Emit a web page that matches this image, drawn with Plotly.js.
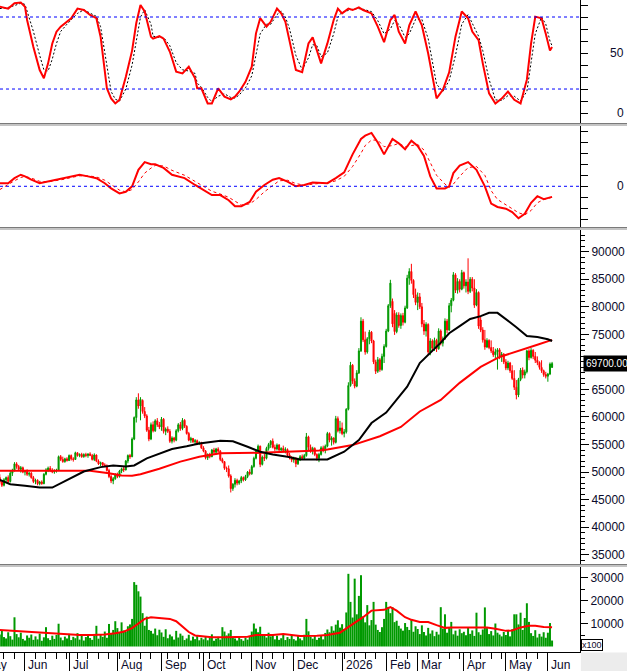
<!DOCTYPE html>
<html><head><meta charset="utf-8">
<script src="https://cdn.plot.ly/plotly-3.0.1.min.js"></script>
<style>html,body{margin:0;padding:0;background:#fff;}#chart{width:627px;height:671px;}</style>
</head><body><div id="chart"></div>
<script>
// ---------- calendar ----------
const calendarStart = '2025-05-02';
const firstDataDay = '2025-05-15';
const lastDataDay = '2026-06-03';
const holidays = ['2025-09-01','2025-09-02','2026-01-01','2026-02-16','2026-02-17','2026-02-18','2026-02-19','2026-02-20','2026-04-27','2026-04-30','2026-05-01'];
const monthNames = ['Jan','Feb','Mar','Apr','May','Jun','Jul','Aug','Sep','Oct','Nov','Dec'];

// ---------- prices (thousands) ----------
const openK = [
49.0,48.2,47.6,48.6,49.0,48.3,49.8,50.3,51.5,51.0,
50.5,50.8,50.0,50.1,49.6,49.8,49.0,48.3,48.5,47.9,
48.2,47.9,49.6,50.4,50.7,50.3,50.0,50.2,50.3,52.8,
52.3,51.9,52.4,52.1,53.0,52.4,52.3,53.5,53.0,53.2,
52.8,53.2,53.0,53.3,53.0,52.3,53.1,52.0,51.5,51.7,
51.3,51.1,50.3,49.2,48.4,48.8,49.5,49.2,50.2,50.6,
50.4,52.0,53.0,52.8,56.0,59.9,63.1,62.0,63.0,61.0,
60.2,57.6,56.0,58.6,57.5,59.3,58.6,58.2,59.6,57.4,
57.8,57.4,55.6,56.2,55.8,57.5,58.6,57.9,59.4,58.3,
57.0,55.8,56.1,55.5,55.7,55.2,55.3,54.4,53.8,52.6,
53.2,52.8,54.0,53.6,54.2,53.8,52.3,51.9,50.7,50.6,
49.3,47.0,47.8,48.5,48.0,48.4,49.0,48.6,49.2,50.0,
49.7,51.0,52.5,53.8,54.7,51.4,52.7,52.5,54.3,55.0,
55.6,54.5,54.2,54.9,54.0,54.3,53.9,54.1,53.1,52.6,
52.2,52.5,51.5,52.3,52.8,52.5,53.0,56.4,54.5,53.9,
54.3,53.2,52.5,53.2,54.4,53.9,54.7,57.0,55.8,56.2,
55.4,59.7,57.5,58.0,57.0,57.3,61.4,65.7,69.4,66.5,
65.6,68.0,72.0,77.4,74.0,71.8,74.2,75.4,73.8,70.0,
68.3,70.4,68.6,71.0,72.8,75.6,80.2,81.0,78.8,75.5,
78.5,76.6,78.4,77.2,79.8,85.2,86.4,84.8,82.2,80.8,
81.8,80.0,76.9,75.6,76.8,71.8,73.8,72.5,73.9,72.4,
75.6,73.4,74.2,77.4,75.8,80.2,81.2,85.8,83.0,84.6,
83.2,86.2,83.8,84.5,82.8,85.0,83.4,80.3,82.6,77.6,
75.8,74.0,72.7,73.9,72.6,72.0,71.3,71.8,72.2,71.0,
71.4,70.0,68.9,69.8,68.4,67.0,65.4,64.0,66.8,68.5,
67.6,68.2,72.0,70.8,72.1,71.0,70.3,69.9,69.0,68.4,
67.7,67.4,67.8,69.0];
const highK = [
49.6,48.6,48.9,49.2,49.4,50.2,50.6,51.8,51.8,51.3,
51.1,51.0,50.4,50.5,50.0,50.0,49.3,48.8,48.7,48.4,
48.5,49.8,50.7,51.0,51.1,50.7,50.5,50.6,53.0,53.1,
52.8,52.6,52.7,53.2,53.2,52.7,53.7,53.6,53.4,53.5,
53.4,53.5,53.4,53.6,53.3,53.4,53.2,52.3,51.9,51.8,
51.6,51.4,50.6,49.6,49.1,49.8,49.9,50.4,50.8,51.0,
52.2,53.2,53.3,56.3,60.1,63.6,64.3,63.6,63.2,61.8,
60.5,58.2,59.0,59.2,59.6,59.8,59.1,60.0,59.8,58.1,
58.3,57.8,56.5,56.4,57.8,58.9,59.1,59.8,59.6,58.5,
57.3,56.4,56.2,56.0,55.9,55.6,55.5,54.7,54.0,53.4,
53.5,54.2,54.4,54.4,54.5,54.0,52.6,52.0,51.0,51.2,
49.6,48.0,48.9,48.8,48.6,49.3,49.2,49.5,50.2,50.5,
51.3,52.8,54.0,55.0,54.8,53.0,53.3,54.6,55.3,55.8,
56.1,55.0,55.2,55.1,54.5,54.8,54.5,54.3,53.5,52.9,
52.8,52.7,52.6,53.1,53.2,53.3,57.1,56.6,55.0,54.6,
54.5,53.4,53.5,54.7,54.8,55.0,57.3,57.2,56.5,56.3,
60.2,60.1,59.3,59.0,57.8,61.6,66.3,70.0,69.6,67.0,
68.5,72.5,78.1,77.8,75.5,74.5,75.8,75.6,74.0,70.4,
70.9,70.7,71.5,73.2,76.0,80.5,84.9,81.5,79.4,79.0,
79.0,78.8,78.9,80.2,85.8,87.0,87.8,85.0,83.3,82.6,
82.5,80.7,77.6,77.2,77.0,74.3,74.1,74.4,74.2,76.1,
75.9,74.6,77.9,77.8,80.7,81.6,86.3,86.1,85.2,85.0,
86.7,86.4,85.0,88.8,85.4,85.4,85.0,83.2,82.8,78.2,
76.3,75.8,74.3,74.1,73.9,72.7,72.4,72.5,72.5,71.8,
71.6,70.5,70.2,70.0,69.4,68.5,66.7,67.1,68.9,69.0,
68.6,72.2,72.3,72.5,72.3,71.8,71.0,70.1,70.3,68.6,
68.2,68.0,69.9,70.0];
const lowK = [
47.8,47.3,47.4,48.0,48.0,48.1,49.3,50.1,50.6,50.2,
49.9,49.8,49.4,49.3,49.2,48.8,48.0,47.8,47.6,47.6,
47.7,47.8,49.4,50.0,50.0,49.8,49.7,49.9,50.2,52.0,
51.7,51.7,51.9,52.0,52.1,51.9,52.2,52.8,52.7,52.6,
52.6,52.7,52.6,52.9,52.1,52.0,51.8,51.3,51.1,51.0,
50.9,50.1,48.9,48.0,47.8,48.6,48.9,49.0,49.8,50.0,
50.3,51.6,52.4,52.7,55.8,59.0,61.5,59.4,60.6,59.8,
57.3,55.6,55.8,57.2,57.3,58.2,57.8,57.5,57.0,56.7,
57.1,55.3,55.2,55.4,55.6,57.2,57.5,57.6,58.0,56.8,
55.6,55.3,55.3,55.1,54.9,54.9,54.2,53.6,52.3,52.2,
52.5,52.7,53.3,53.2,53.5,52.0,51.6,50.4,50.0,49.0,
46.3,46.6,47.2,47.6,47.7,48.0,48.3,48.4,48.9,49.4,
49.5,50.8,52.3,53.4,50.9,51.2,52.0,52.3,53.9,54.4,
54.3,53.8,53.9,53.7,53.5,53.6,53.4,52.9,52.3,51.8,
51.7,50.9,51.3,52.0,52.2,52.2,52.8,54.0,53.5,53.2,
52.9,52.1,51.8,53.0,53.6,53.4,54.5,55.4,54.8,55.0,
55.2,57.2,57.0,56.7,56.3,57.0,61.2,65.5,66.0,65.2,
65.4,67.8,71.8,73.6,71.3,71.5,73.2,73.4,69.6,67.8,
68.0,68.2,68.4,69.8,72.6,75.4,79.8,76.3,74.9,75.2,
76.2,76.0,76.6,77.0,79.6,84.0,84.2,81.6,80.3,79.4,
79.6,76.3,74.9,74.6,71.3,71.2,72.0,72.0,71.8,72.2,
73.0,72.8,74.0,75.2,75.6,79.0,81.0,82.5,82.4,82.6,
83.0,83.3,82.6,82.3,82.5,82.8,79.8,80.1,76.0,75.4,
73.5,72.2,72.5,72.3,71.6,70.9,70.6,68.6,70.5,70.0,
69.6,68.5,68.5,68.0,66.7,64.9,63.2,63.6,66.5,67.0,
67.0,67.9,70.3,70.6,70.5,69.8,69.4,68.6,68.0,67.3,
67.0,66.4,67.6,68.9];
const closeK = [
48.2,47.6,48.6,49.0,48.3,49.8,50.3,51.5,51.0,50.5,
50.8,50.0,50.1,49.6,49.8,49.0,48.3,48.5,47.9,48.2,
47.9,49.6,50.4,50.7,50.3,50.0,50.2,50.3,52.8,52.3,
51.9,52.4,52.1,53.0,52.4,52.3,53.5,53.0,53.2,52.8,
53.2,53.0,53.3,53.0,52.3,53.1,52.0,51.5,51.7,51.3,
51.1,50.3,49.2,48.4,48.8,49.5,49.2,50.2,50.6,50.4,
52.0,53.0,52.8,56.0,59.9,63.1,62.0,63.2,61.0,60.2,
57.6,56.0,58.6,57.5,59.3,58.6,58.2,59.6,57.4,57.8,
57.4,55.6,56.2,55.8,57.5,58.6,57.9,59.4,58.3,57.0,
55.8,56.1,55.5,55.7,55.2,55.3,54.4,53.8,52.6,53.2,
52.8,54.0,53.6,54.2,53.8,52.3,51.9,50.7,50.6,49.3,
47.0,47.8,48.5,48.0,48.4,49.0,48.6,49.2,50.0,49.7,
51.0,52.5,53.8,54.7,51.4,52.7,52.5,54.3,55.0,55.6,
54.5,54.2,54.9,54.0,54.3,53.9,54.1,53.1,52.6,52.2,
52.5,51.5,52.3,52.8,52.5,53.0,56.4,54.5,53.9,54.3,
53.2,52.5,53.2,54.4,53.9,54.7,57.0,55.8,56.2,55.4,
59.7,57.5,58.0,57.0,57.3,61.4,65.7,69.4,66.5,65.6,
68.0,72.0,77.4,74.0,71.8,74.2,75.4,73.8,70.0,68.3,
70.4,68.6,71.0,72.8,75.6,80.2,84.3,76.9,75.5,78.5,
76.6,78.4,77.2,79.8,85.2,86.4,84.8,82.2,80.8,81.8,
80.0,76.9,75.6,76.8,71.8,73.8,72.5,73.9,72.4,75.6,
73.4,74.2,77.4,75.8,80.2,81.2,85.8,83.0,84.6,83.2,
86.2,83.8,84.5,82.8,85.0,83.4,80.3,82.6,76.5,75.8,
74.0,72.7,73.9,72.6,72.0,71.3,71.8,72.2,71.0,71.4,
70.0,68.9,69.8,68.4,67.0,65.4,64.0,66.8,68.5,67.6,
68.2,72.0,70.8,72.1,71.0,70.3,69.9,69.0,68.4,67.7,
67.4,67.8,69.6,69.7];

// ---------- volume (x100) ----------
const volume = [
5200,6800,4100,3500,6200,4500,3000,12700,5400,4000,6000,3300,
2600,4800,3800,5200,2900,4400,3100,5600,2500,4000,8400,3600,2800,4700,3300,5000,9900,3900,2700,4300,3500,
5500,2800,4200,3600,5800,3000,4600,2600,4100,5300,3700,2900,4800,9000,3400,5100,4200,6500,3800,9800,5600,7200,11000,
8000,6200,10500,7000,6400,8800,9600,12000,28000,26800,24000,21700,14500,9000,13000,7200,6800,5600,7800,4900,7300,
6100,4200,7500,3600,5200,4400,3000,6800,3900,5600,4700,2800,3500,5100,2600,4300,3200,4900,2700,3800,
3100,4500,2700,3900,5300,2500,3400,4200,3000,8400,6500,4800,5700,7200,4100,3500,2600,4400,3200,2500,3900,3000,4600,
6500,10000,7800,6200,8600,4800,5300,3900,6000,4400,5200,3100,4700,2900,3600,5500,2800,4100,3300,4900,
3200,2600,4800,3500,2700,5100,12000,6600,4200,3400,5000,2900,3800,4600,3100,5900,7400,6200,8800,6900,9500,11400,8200,
9700,7600,14800,31600,19400,12600,29500,14000,22000,31000,13000,10500,18000,9200,11500,19400,9500,7200,6300,8400,12000,
19400,17200,14500,17100,10600,11200,9000,7800,6900,10200,8500,7200,11800,6400,8800,
7600,5400,9200,6300,4800,8100,5600,7000,4500,6400,5200,17100,7800,14000,6000,8200,10700,5300,6900,4700,7500,5800,
6400,4900,8300,5500,7000,4600,14700,6200,5100,7400,17000,8000,5400,6700,4800,10000,6000,5200,4400,6300,
5000,6800,4400,7500,14000,14000,9600,14700,7200,12400,18800,10700,5800,4600,7100,3900,5500,4300,6200,3800,
6000,10200,2600];

// ---------- moving averages (day number, value) ----------
const blackMaDay = [0,5,12,19,25,32,40,48,54,60,64,70,76,82,89,95,105,111,118,124,130,137,143,156,164,171,177,184,194,200,210,214,219,224,229,233,237,241,246,251,256,261,263];
const blackMaK = [48.6,47.8,47.5,47.2,47.2,48.6,50.1,50.9,51.2,51.0,51.2,52.5,53.4,54.2,54.7,55.2,55.7,55.6,54.6,53.7,53.2,52.8,52.3,52.3,53.7,55.8,58.9,60.8,65.5,69.8,73.5,75.2,76.5,77.8,78.3,78.9,78.9,77.8,76.3,74.7,74.5,74.1,73.8];
const redMaDay = [0,16,30,43,52,58,63,67,76,86,95,105,124,137,152,156,168,181,191,200,210,219,229,238,248,256,263];
const redMaK = [50.25,50.25,50.2,50.25,49.8,49.4,49.35,49.6,50.6,51.9,52.8,53.4,53.5,53.7,53.9,54.1,54.9,56.5,58.2,61.0,63.1,66.2,69.1,70.9,72.2,73.1,74.0];
const volMaDay = [0,8,15,23,29,33,38,44,50,55,59,63,66,69,72,76,81,84,87,90,93,97,101,107,114,118,122,130,135,139,143,151,156,162,164,167,171,173,177,183,186,189,193,196,200,204,208,212,215,221,227,232,236,241,244,248,252,255,259,263];
const volMa = [7200,6700,6200,5800,5300,5000,5000,5000,5200,5800,6400,8000,10100,12000,12750,12460,12000,11000,8800,6300,4800,4300,4000,4000,4000,4200,5000,5000,5400,5100,4600,4700,5000,6000,7200,9000,11500,12750,15600,15940,17100,15600,12750,11600,10700,10600,9300,8100,8300,8300,8300,8300,7700,6800,7000,8300,9000,9000,8500,8400];

// ---------- stochastic ----------
const stochDay = [0,4,7,10,12,13,16,19,21,23,25,27,29,32,34,37,40,43,46,48,51,53,55,57,60,63,65,67,69,72,73,76,78,81,84,87,90,93,94,96,99,101,104,107,110,112,114,117,120,122,124,127,129,132,134,136,138,141,144,147,149,151,153,156,159,161,163,166,168,171,173,177,180,183,186,188,190,193,195,198,201,204,206,208,211,214,217,220,223,225,228,230,233,236,239,242,245,248,251,253,255,258,260,262,263];
const stochK = [88.6,87,91.4,92,88.6,77.5,55,35.8,29,41.4,58,67.8,72,76,79,87,85.8,81.7,79,63.6,20.6,12.2,8,11,30,52,75,90,84.6,63.6,62,64,62,51,34.5,33,38.6,29,20.6,20.6,8,8,20.6,13.6,11.4,13.6,17.8,26,38.6,66.4,79,72,76,87,83,76,60,35.8,34,58,63,52,41.4,58,77.5,87,83,87,85.8,88,85.8,83,72,59,77.5,81.7,67.8,58,73,84.6,73,49.6,30,12.2,19.4,33.9,63.6,84.6,79,67.8,60.8,41.4,16.4,8,12,17.8,11,8,27.8,58,80.3,79,66,52,55];
const stochD = [87,88,89.5,91.5,90.5,85,68,48,36,35,45,58,68,74,77.5,83,86,83.5,80.5,72,38,18,11.5,10,20,40,60,80,86,74,64,63,63,56,42,36,35,33,25,21.5,13,9.5,14,16,13,12.5,15,21,31,48,66,74,74,82,85,80,70,48,36,46,57,56,47,50,66,80,84,85.5,86.5,87,86.5,84.5,77,66,70,77,74,63,66,78,78,62,42,24,18,27,48,74,82,75,64,52,28,11,10.5,14.5,14,10,18,42,66,80,74,60,56];

// ---------- MACD ----------
const macdDay = [0,4,7,10,12,15,19,23,27,31,34,38,42,46,50,53,57,60,63,66,69,72,74,78,82,88,93,97,101,105,109,112,115,119,122,126,130,133,137,141,145,149,153,156,160,164,168,172,174,177,180,183,187,190,193,196,199,202,205,208,212,214,216,219,223,227,231,234,237,241,244,247,250,253,256,259,263];
const macdLine = [0.28,0.28,0.74,1.05,0.9,0.6,0.28,0.43,0.6,0.74,0.9,1.05,0.9,0.74,0.28,-0.19,-0.65,-0.5,0,1.5,2.2,2.0,2.0,1.67,1.05,0.74,0.12,-0.34,-0.8,-0.8,-1.27,-1.82,-1.82,-1.42,-0.5,0.12,0.6,0.74,0.43,0,0.12,0.34,0.28,0.28,0.74,1.27,2.9,4.3,4.6,4.85,3.98,2.9,4.3,3.9,3.36,4.14,3.67,2.75,0.9,-0.19,-0.19,0,1.2,1.88,2.2,1.5,0,-1.57,-1.88,-2.04,-2.35,-2.9,-2.5,-1.5,-0.9,-1.17,-0.96];
const macdSignal = [-0.3,0.2,0.5,0.8,0.9,0.75,0.45,0.4,0.5,0.65,0.8,0.95,0.95,0.85,0.55,0.15,-0.35,-0.5,-0.3,0.4,1.2,1.65,1.9,1.85,1.45,1.0,0.45,0.0,-0.45,-0.7,-1.0,-1.35,-1.7,-1.6,-1.2,-0.5,0.1,0.5,0.55,0.25,0.1,0.2,0.28,0.28,0.5,0.9,1.8,3.0,3.7,4.2,4.2,3.6,3.7,3.9,3.6,3.7,3.8,3.3,2.2,1.0,0.2,-0.1,0.2,0.9,1.7,1.8,1.0,-0.4,-1.2,-1.7,-2.0,-2.4,-2.6,-2.2,-1.5,-1.2,-1.0];

const lastPriceText = '69700.00';
const lastPrice = 69700;
const priceTicks = [35000,40000,45000,50000,55000,60000,65000,70000,75000,80000,85000,90000];
const volTicks = [10000,20000,30000];

// ---------- build ----------
function buildCalendar(){
  const out=[]; const d=new Date(calendarStart+'T00:00:00Z'); const end=new Date(lastDataDay+'T00:00:00Z');
  while(d<=end){const wd=d.getUTCDay();const s=d.toISOString().slice(0,10);
    if(wd!==0&&wd!==6&&holidays.indexOf(s)<0)out.push(s);
    d.setUTCDate(d.getUTCDate()+1);}
  return out;
}
const cal=buildCalendar();
const offset=cal.indexOf(firstDataDay);
const monthStarts=[],monthText=[],weekStarts=[];
for(let k=0;k<cal.length;k++){
  const n=k-offset;
  if(k===0||cal[k].slice(0,7)!==cal[k-1].slice(0,7)){
    monthStarts.push(n);
    const m=parseInt(cal[k].slice(5,7),10)-1;
    monthText.push(m===0?cal[k].slice(0,4):monthNames[m]);
  } else {
    const a=new Date(cal[k-1]+'T00:00:00Z').getUTCDay(), b=new Date(cal[k]+'T00:00:00Z').getUTCDay();
    if(b<=a) weekStarts.push(n);
  }
}
const days=closeK.map((_,j)=>j);
const K=v=>v*1000;
const H=652; const py=p=>(H-p)/H;
const R0=0.1, R1=276.3;
const FONT='Liberation Sans, Arial, sans-serif';
const TXT='#0b0b2b';
const GREEN='#009900', RED='#ff0000';

const traces=[
 {type:'scatter',mode:'lines',x:stochDay,y:stochD,xaxis:'x',yaxis:'y4',line:{color:'#000',width:1,dash:'2px,2px'},hoverinfo:'skip'},
 {type:'scatter',mode:'lines',x:stochDay,y:stochK,xaxis:'x',yaxis:'y4',line:{color:RED,width:2},hoverinfo:'skip'},
 {type:'scatter',mode:'lines',x:macdDay,y:macdSignal,xaxis:'x',yaxis:'y3',line:{color:RED,width:1,dash:'3px,3px'},hoverinfo:'skip'},
 {type:'scatter',mode:'lines',x:macdDay,y:macdLine,xaxis:'x',yaxis:'y3',line:{color:RED,width:2},hoverinfo:'skip'},
 {type:'candlestick',x:days,open:openK.map(K),high:highK.map(K),low:lowK.map(K),close:closeK.map(K),xaxis:'x',yaxis:'y2',
  increasing:{line:{color:GREEN,width:1},fillcolor:GREEN},decreasing:{line:{color:RED,width:1},fillcolor:RED},whiskerwidth:0,hoverinfo:'skip'},
 {type:'scatter',mode:'lines',x:redMaDay,y:redMaK.map(K),xaxis:'x',yaxis:'y2',line:{color:RED,width:2},hoverinfo:'skip'},
 {type:'scatter',mode:'lines',x:blackMaDay,y:blackMaK.map(K),xaxis:'x',yaxis:'y2',line:{color:'#000',width:2},hoverinfo:'skip'},
 {type:'bar',x:days,y:volume,xaxis:'x',yaxis:'y',width:0.95,marker:{color:GREEN,line:{width:0}},hoverinfo:'skip'},
 {type:'scatter',mode:'lines',x:volMaDay,y:volMa,xaxis:'x',yaxis:'y',line:{color:RED,width:2},hoverinfo:'skip'}
];

function minorVals(lo,hi,step,skip){const a=[];for(let v=lo;v<=hi;v+=step){if(v%skip!==0)a.push(v);}return a;}
const yBase={side:'right',anchor:'x',showline:true,linecolor:'#000',linewidth:1,ticks:'outside',ticklen:7,tickcolor:'#000',tickwidth:1,
  showgrid:false,zeroline:false,fixedrange:true,tickfont:{family:FONT,size:12,color:TXT},tickmode:'array'};

const shapes=[
 {type:'line',xref:'paper',x0:0,x1:1,yref:'y4',y0:80,y1:80,line:{color:'#0000ff',width:1,dash:'3px,3px'}},
 {type:'line',xref:'paper',x0:0,x1:1,yref:'y4',y0:20,y1:20,line:{color:'#0000ff',width:1,dash:'3px,3px'}},
 {type:'line',xref:'paper',x0:0,x1:1,yref:'y3',y0:0,y1:0,line:{color:'#0000ff',width:1,dash:'3px,3px'}}
];
[[123,126],[227,230],[564,567]].forEach(([a,b])=>{
  shapes.push({type:'rect',xref:'paper',x0:0,x1:1.09,yref:'paper',y0:py(b),y1:py(a),fillcolor:'#c4c4c4',line:{width:0},layer:'above'});
  shapes.push({type:'line',xref:'paper',x0:0,x1:1.09,yref:'paper',y0:py(a+0.5),y1:py(a+0.5),line:{color:'#7a7a7a',width:1},layer:'above'});
});
shapes.push({type:'rect',xref:'paper',x0:1.0015,x1:1.09,yref:'paper',y0:py(680),y1:py(652.5),fillcolor:'#ececec',line:{width:0},layer:'above'});

const annotations=[];
monthStarts.forEach((m,j)=>{
  annotations.push({xref:'paper',x:(m-R0)/(R1-R0),xanchor:'left',xshift:1.5,yref:'paper',y:py(665),yanchor:'middle',
    text:monthText[j],showarrow:false,font:{family:FONT,size:12,color:TXT}});
});
const labX=626/580;
annotations.push({xref:'paper',x:labX,xanchor:'right',yref:'y4',y:50,yanchor:'middle',text:'50',showarrow:false,font:{family:FONT,size:12,color:TXT}});
annotations.push({xref:'paper',x:labX,xanchor:'right',yref:'y4',y:0,yanchor:'middle',text:'0',showarrow:false,font:{family:FONT,size:12,color:TXT}});
annotations.push({xref:'paper',x:labX,xanchor:'right',yref:'y3',y:0,yanchor:'middle',text:'0',showarrow:false,font:{family:FONT,size:12,color:TXT}});
annotations.push({xref:'paper',x:1,xshift:3,xanchor:'left',yref:'y2',y:lastPrice,yanchor:'middle',text:lastPriceText,showarrow:false,
  bgcolor:'#000',borderpad:2,font:{family:FONT,size:10,color:'#fff'}});
annotations.push({xref:'paper',x:1,xshift:1,xanchor:'left',yref:'paper',y:py(645),yanchor:'middle',text:'x100',showarrow:false,
  bgcolor:'#fff',bordercolor:'#000',borderwidth:1,borderpad:0,font:{family:FONT,size:9,color:TXT}});

// the last-price box covers the 70000 label in the reference
const priceTickText=priceTicks.map(v=>Math.abs(v-lastPrice)<1000?'':String(v));

const layout={
  width:627,height:671,margin:{l:0,r:47,t:0,b:19},paper_bgcolor:'#fff',plot_bgcolor:'#fff',
  showlegend:false,hovermode:false,dragmode:false,
  xaxis:{domain:[0,1],range:[R0,R1],anchor:'y',showline:true,linecolor:'#000',linewidth:1,
    tickmode:'array',tickvals:monthStarts,ticktext:monthStarts.map(()=>''),showticklabels:false,
    ticks:'outside',ticklen:18,tickcolor:'#000',tickwidth:1,
    minor:{tickmode:'array',tickvals:weekStarts,ticks:'outside',ticklen:6,tickcolor:'#000',tickwidth:1,showgrid:false},
    showgrid:false,zeroline:false,fixedrange:true,rangeslider:{visible:false}},
  yaxis:Object.assign({},yBase,{domain:[0,py(567)],range:[-2391,34565],tickvals:volTicks,ticktext:volTicks.map(String),
    minor:{tickmode:'array',tickvals:[5000,15000,25000],ticks:'outside',ticklen:4,tickcolor:'#000'}}),
  yaxis2:Object.assign({},yBase,{domain:[py(564),py(230)],range:[33318,93939],tickvals:priceTicks,ticktext:priceTickText,ticklen:8,
    minor:{tickmode:'array',tickvals:minorVals(34000,93000,1000,5000),ticks:'outside',ticklen:4,tickcolor:'#000'}}),
  yaxis3:Object.assign({},yBase,{domain:[py(227),py(126)],range:[-3.7,5.48],tickvals:[-3,-2,-1,0,1,2,3,4,5],showticklabels:false}),
  yaxis4:Object.assign({},yBase,{domain:[py(123),1],range:[-8.3,94.17],tickvals:[0,10,20,30,40,50,60,70,80,90],showticklabels:false}),
  shapes:shapes,annotations:annotations
};
Plotly.newPlot('chart',traces,layout,{staticPlot:true,displayModeBar:false});
</script></body></html>
